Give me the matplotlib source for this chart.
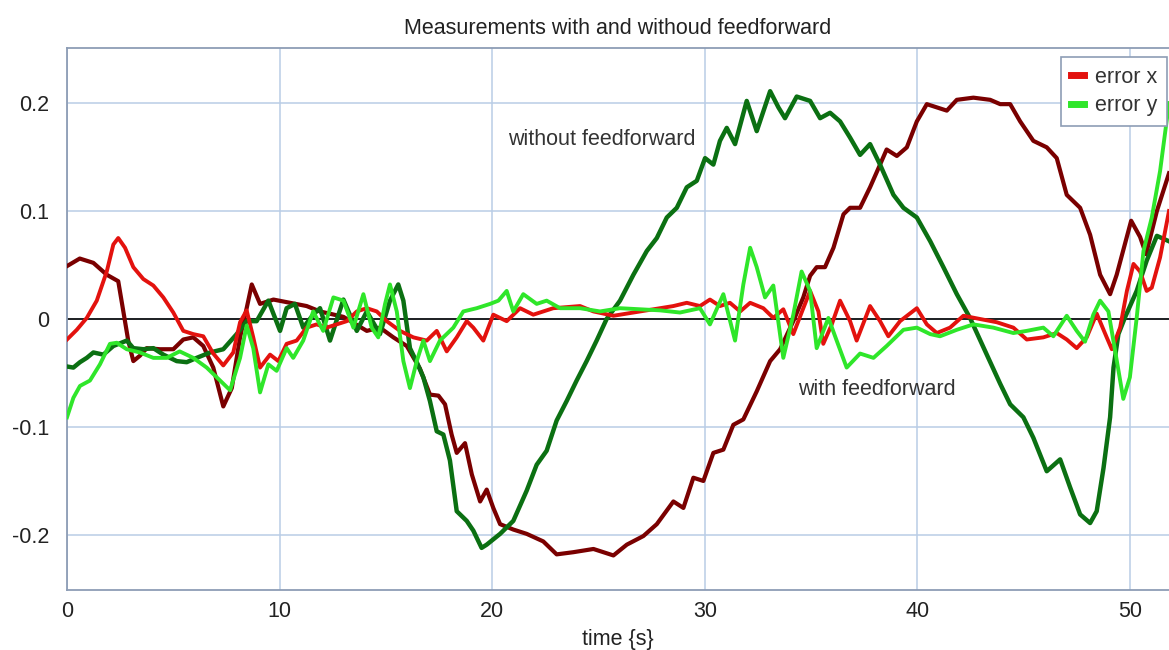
import numpy as np
import matplotlib
matplotlib.use("Agg")
import matplotlib.pyplot as plt

plt.rcParams['font.family'] = ['Liberation Sans', 'DejaVu Sans']

# error x without feedforward (dark red)
t_xw = [0, 0.6, 1.24, 1.87, 2.41, 2.65, 2.88, 3.12, 3.43, 3.75, 4.37, 5.0, 5.47, 5.94, 6.41,
        6.88, 7.35, 7.75, 8.14, 8.45, 8.69, 9.08, 9.71, 10.49, 11.27, 11.9, 13.0, 14.1, 14.72,
        15.35, 15.98, 16.6, 17.07, 17.47, 17.78, 18.09, 18.33, 18.72, 19.04, 19.43, 19.74,
        20.05, 20.37, 20.99, 21.62, 22.4, 23.03, 23.81, 24.76, 25.7, 26.33, 27.11, 27.74,
        28.52, 28.99, 29.46, 29.93, 30.4, 30.87, 31.34, 31.81, 32.44, 33.07, 33.54, 34.16,
        34.63, 34.95, 35.26, 35.65, 36.05, 36.52, 36.83, 37.3, 37.77, 38.24, 38.55, 39.03,
        39.5, 39.97, 40.44, 40.91, 41.38, 41.85, 42.63, 43.42, 43.89, 44.36, 44.83, 45.45,
        46.08, 46.55, 47.02, 47.65, 48.12, 48.59, 49.06, 49.37, 50.05, 50.47, 50.75, 51.26, 51.83]
v_xw = [0.049, 0.056, 0.052, 0.041, 0.035, 0.007, -0.020, -0.039, -0.034, -0.027, -0.028, -0.028,
        -0.019, -0.017, -0.025, -0.045, -0.081, -0.064, -0.017, 0.010, 0.032, 0.014, 0.018, 0.015,
        0.012, 0.007, 0.002, -0.011, -0.008, -0.017, -0.025, -0.046, -0.070, -0.071, -0.079,
        -0.107, -0.124, -0.115, -0.144, -0.169, -0.158, -0.175, -0.190, -0.195, -0.199, -0.206,
        -0.218, -0.216, -0.213, -0.219, -0.209, -0.201, -0.190, -0.169, -0.175, -0.147, -0.150,
        -0.124, -0.121, -0.098, -0.093, -0.067, -0.039, -0.028, -0.002, 0.020, 0.040, 0.048,
        0.048, 0.066, 0.097, 0.103, 0.103, 0.122, 0.143, 0.157, 0.151, 0.159, 0.183, 0.199,
        0.196, 0.193, 0.203, 0.205, 0.203, 0.199, 0.199, 0.183, 0.165, 0.159, 0.149, 0.115,
        0.103, 0.078, 0.041, 0.023, 0.041, 0.091, 0.076, 0.060, 0.100, 0.135]

# error y without feedforward (dark green)
t_yw = [0, 0.3, 0.61, 0.93, 1.24, 1.71, 2.18, 2.81, 3.12, 3.59, 4.06, 4.53, 5.16, 5.63, 6.1,
        6.73, 7.35, 7.98, 8.45, 8.92, 9.47, 10.02, 10.33, 10.72, 11.11, 11.58, 11.9, 12.37,
        13.0, 13.63, 14.1, 14.72, 15.19, 15.58, 15.82, 16.13, 16.45, 16.76, 17.07, 17.39, 17.7,
        18.01, 18.33, 18.8, 19.11, 19.5, 19.74, 20.37, 20.99, 21.62, 22.09, 22.56, 23.03, 23.5,
        23.97, 24.44, 24.91, 25.38, 26.01, 26.64, 27.27, 27.74, 28.21, 28.68, 29.15, 29.62,
        30.01, 30.4, 30.71, 31.03, 31.42, 31.97, 32.44, 33.07, 33.46, 33.77, 34.32, 34.95,
        35.42, 35.89, 36.36, 36.83, 37.3, 37.77, 38.24, 38.87, 39.34, 39.97, 40.6, 41.22,
        41.85, 42.47, 43.26, 43.89, 44.36, 44.98, 45.45, 46.08, 46.71, 47.18, 47.65, 48.12,
        48.43, 48.75, 49.06, 49.22, 49.45, 49.75, 50.31, 50.78, 51.26, 51.83]
v_yw = [-0.044, -0.045, -0.040, -0.036, -0.031, -0.033, -0.025, -0.020, -0.027, -0.028, -0.027,
        -0.033, -0.039, -0.040, -0.036, -0.031, -0.028, -0.014, -0.002, -0.002, 0.017, -0.011,
        0.010, 0.014, -0.008, 0.004, 0.010, -0.020, 0.018, -0.011, 0.007, -0.014, 0.017, 0.032,
        0.017, -0.027, -0.040, -0.054, -0.076, -0.104, -0.107, -0.131, -0.178, -0.187, -0.196,
        -0.212, -0.209, -0.199, -0.187, -0.159, -0.135, -0.122, -0.094, -0.076, -0.057, -0.039,
        -0.020, 0.000, 0.017, 0.041, 0.063, 0.075, 0.094, 0.103, 0.122, 0.128, 0.149, 0.143,
        0.165, 0.177, 0.162, 0.202, 0.174, 0.211, 0.196, 0.186, 0.206, 0.202, 0.186, 0.191,
        0.183, 0.168, 0.152, 0.162, 0.143, 0.115, 0.103, 0.094, 0.072, 0.048, 0.023, 0.001,
        -0.033, -0.060, -0.079, -0.091, -0.110, -0.141, -0.130, -0.156, -0.181, -0.189, -0.178,
        -0.138, -0.091, -0.045, -0.014, 0.001, 0.026, 0.054, 0.077, 0.072]

# error x with feedforward (red)
t_xf = [0, 0.46, 0.93, 1.4, 1.87, 2.18, 2.41, 2.73, 3.12, 3.59, 4.06, 4.53, 5.0, 5.47, 5.94,
        6.41, 6.88, 7.35, 7.82, 8.14, 8.45, 8.76, 9.08, 9.55, 9.94, 10.33, 10.8, 11.27, 11.74,
        12.21, 12.68, 13.16, 13.63, 14.1, 14.57, 15.04, 15.66, 16.29, 16.92, 17.39, 17.86,
        18.33, 18.8, 19.11, 19.58, 20.05, 20.68, 21.31, 21.93, 22.87, 24.13, 24.76, 25.7,
        26.64, 27.58, 28.52, 29.15, 29.77, 30.24, 30.71, 31.18, 31.66, 32.13, 32.75, 33.22,
        33.69, 34.16, 34.63, 34.95, 35.34, 35.57, 35.97, 36.36, 36.83, 37.14, 37.77, 38.24,
        38.63, 39.18, 39.97, 40.44, 40.91, 41.53, 42.16, 42.94, 43.73, 44.51, 45.14, 45.92,
        46.55, 47.02, 47.49, 47.96, 48.43, 48.9, 49.14, 49.53, 49.85, 50.16, 50.47, 50.78,
        51.02, 51.41, 51.83]
v_xf = [-0.019, -0.010, 0.001, 0.017, 0.044, 0.069, 0.075, 0.066, 0.048, 0.037, 0.031, 0.020,
        0.006, -0.011, -0.014, -0.016, -0.032, -0.043, -0.031, -0.003, 0.008, -0.017, -0.045,
        -0.033, -0.039, -0.023, -0.020, -0.008, -0.005, -0.008, -0.005, -0.002, 0.007, 0.010,
        0.007, -0.002, -0.011, -0.017, -0.020, -0.011, -0.030, -0.017, -0.002, -0.008, -0.020,
        0.004, -0.002, 0.010, 0.004, 0.010, 0.012, 0.007, 0.003, 0.006, 0.009, 0.012, 0.015,
        0.012, 0.018, 0.012, 0.015, 0.007, 0.015, 0.010, 0.001, 0.009, -0.014, 0.010, 0.026,
        0.007, -0.023, -0.005, 0.017, -0.002, -0.020, 0.012, -0.002, -0.016, -0.002, 0.010,
        -0.005, -0.013, -0.008, 0.003, 0.000, -0.003, -0.008, -0.019, -0.017, -0.013, -0.019,
        -0.027, -0.017, 0.005, -0.017, -0.028, -0.008, 0.026, 0.051, 0.044, 0.026, 0.029, 0.057,
        0.100]

# error y with feedforward (light green)
t_yf = [0, 0.3, 0.61, 1.08, 1.55, 2.02, 2.34, 2.81, 3.43, 4.06, 4.69, 5.3, 5.94, 6.57, 7.2,
        7.67, 8.14, 8.45, 8.76, 9.08, 9.47, 9.86, 10.33, 10.64, 11.11, 11.58, 12.05, 12.53,
        13.0, 13.47, 13.94, 14.33, 14.64, 14.96, 15.19, 15.51, 15.82, 16.13, 16.45, 16.76,
        17.07, 17.54, 18.17, 18.64, 19.27, 19.9, 20.29, 20.68, 20.99, 21.46, 22.09, 22.56,
        23.19, 24.13, 25.07, 26.01, 26.95, 27.89, 28.83, 29.77, 30.24, 30.87, 31.42, 31.81,
        32.13, 32.44, 32.83, 33.22, 33.69, 34.16, 34.55, 34.95, 35.26, 35.81, 36.2, 36.67,
        37.3, 37.93, 38.55, 39.34, 39.97, 40.6, 41.06, 41.85, 42.63, 43.57, 44.51, 45.14,
        45.92, 46.39, 47.02, 47.49, 47.88, 48.27, 48.59, 48.98, 49.3, 49.68, 49.99, 50.31,
        50.63, 51.02, 51.41, 51.83]
v_yf = [-0.091, -0.073, -0.062, -0.057, -0.042, -0.023, -0.022, -0.028, -0.031, -0.036, -0.036,
        -0.030, -0.036, -0.045, -0.057, -0.066, -0.036, -0.006, -0.027, -0.068, -0.042, -0.048,
        -0.027, -0.036, -0.020, 0.007, -0.011, 0.020, 0.017, -0.008, 0.023, -0.008, -0.017,
        0.014, 0.032, 0.007, -0.039, -0.064, -0.039, -0.020, -0.039, -0.020, -0.008, 0.007,
        0.010, 0.014, 0.017, 0.026, 0.007, 0.023, 0.014, 0.017, 0.010, 0.010, 0.007, 0.010,
        0.009, 0.008, 0.006, 0.010, -0.005, 0.023, -0.020, 0.032, 0.066, 0.048, 0.020, 0.031,
        -0.036, 0.004, 0.044, 0.026, -0.027, 0.001, -0.020, -0.045, -0.032, -0.036, -0.025,
        -0.010, -0.008, -0.014, -0.016, -0.010, -0.005, -0.008, -0.013, -0.011, -0.008, -0.016,
        0.003, -0.011, -0.021, 0.004, 0.017, 0.007, -0.030, -0.074, -0.054, 0.001, 0.063, 0.094,
        0.137, 0.200]

x_ticks = [0, 10, 20, 30, 40, 50]
y_ticks = [-0.2, -0.1, 0, 0.1, 0.2]
y_labels = ['-0.2', '-0.1', '0', '0.1', '0.2']

fs = 15.5
fig = plt.figure(figsize=(11.69, 6.5), dpi=100)
ax = fig.add_axes([67/1169, 60/650, 1 - 67/1169, 542/650])

grid_col = '#b9cde6'
spine_col = '#8d9db5'

ax.set_xlim(0, 51.83)
ax.set_ylim(-0.251, 0.251)
ax.set_xticks(x_ticks)
ax.set_yticks(y_ticks)
ax.set_yticklabels(y_labels)
ax.grid(True, color=grid_col, linewidth=1.1)
ax.set_axisbelow(True)
ax.tick_params(length=0, labelsize=fs, colors='#222222')
ax.tick_params(axis='y', pad=13)
ax.tick_params(axis='x', pad=8)
for s in ['left', 'bottom', 'top']:
    ax.spines[s].set_color(spine_col)
    ax.spines[s].set_linewidth(1.3)
ax.spines['right'].set_visible(False)

ax.axhline(0, color='black', linewidth=1.2, zorder=2)

ax.plot(t_xw, v_xw, color='#7a0000', linewidth=3.0, zorder=3)
ax.plot(t_yw, v_yw, color='#0b7012', linewidth=3.2, zorder=3)
ax.plot(t_xf, v_xf, color='#e3120e', linewidth=2.8, zorder=4, label='error x')
ax.plot(t_yf, v_yf, color='#2fe62a', linewidth=2.8, zorder=4, label='error y')

ax.text(20.74, 0.166, 'without feedforward', fontsize=fs, color='#333333', va='center', ha='left')
ax.text(34.38, -0.065, 'with feedforward', fontsize=fs, color='#333333', va='center', ha='left')

ax.set_title('Measurements with and withoud feedforward', fontsize=fs, color='#222222', pad=10)
ax.set_xlabel('time {s}', fontsize=fs, color='#222222', labelpad=5)

leg = ax.legend(loc='upper right', bbox_to_anchor=(0.998, 0.983), fontsize=fs,
                handlelength=0.6, handletextpad=0.5, borderpad=0.45, labelspacing=0.35,
                fancybox=False, framealpha=1, borderaxespad=0)
leg.get_frame().set_edgecolor(spine_col)
leg.get_frame().set_linewidth(1.2)
for h in leg.get_lines():
    h.set_linewidth(5)
for txt in leg.get_texts():
    txt.set_color('#333333')

fig.savefig('out.png', dpi=100)
